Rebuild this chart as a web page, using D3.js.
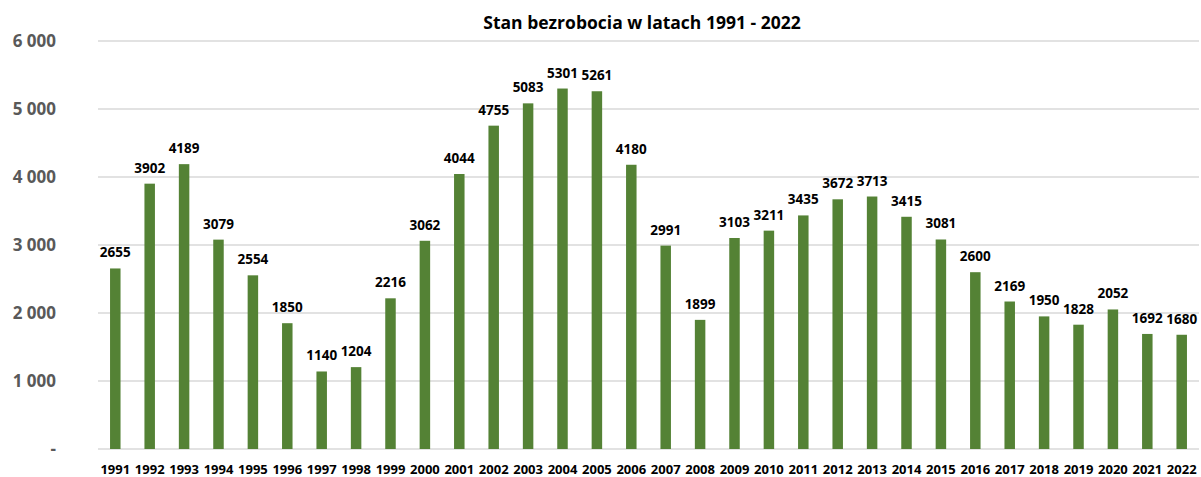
<!DOCTYPE html>
<html>
<head>
<meta charset="utf-8">
<script src="https://cdn.jsdelivr.net/npm/d3@7"></script>
<style>
  body { margin: 0; background: #fff; }
  text { font-family: "Open Sans", "Noto Sans", sans-serif; font-weight: bold; }
</style>
</head>
<body>
<svg id="chart" width="1201" height="477"></svg>
<script>
// Data
var years = ["1991","1992","1993","1994","1995","1996","1997","1998","1999","2000",
  "2001","2002","2003","2004","2005","2006","2007","2008","2009","2010",
  "2011","2012","2013","2014","2015","2016","2017","2018","2019","2020","2021","2022"];
var unemployed = [2655,3902,4189,3079,2554,1850,1140,1204,2216,3062,
  4044,4755,5083,5301,5261,4180,2991,1899,3103,3211,
  3435,3672,3713,3415,3081,2600,2169,1950,1828,2052,1692,1680];
var yTicks = [0, 1000, 2000, 3000, 4000, 5000, 6000];

var margin = {top: 41, right: 2, bottom: 28, left: 98};

var svg = d3.select("#chart"),
  width = +svg.attr("width") - margin.left - margin.right,
  height = +svg.attr("height") - margin.top - margin.bottom;

var g = svg.append("g")
  .attr("transform", "translate(" + margin.left + "," + margin.top + ")");

// Scales
var x = d3.scaleBand()
  .domain(years)
  .range([0, width])
  .paddingInner(0.695)
  .paddingOuter(0.35);

var y = d3.scaleLinear()
  .domain([0, 6000])
  .range([height, 0]);

// Gridlines
g.append("g")
  .selectAll("line")
  .data(yTicks)
  .enter()
  .append("line")
    .attr("x1", 0)
    .attr("x2", width)
    .attr("y1", function(d) { return y(d); })
    .attr("y2", function(d) { return y(d); })
    .attr("stroke", "#d9d9d9")
    .attr("stroke-width", 1.5);

// Y axis labels
var fmt = function(d) {
  return d === 0 ? "-" : d3.format(",")(d).replace(",", " ");
};
var yAxis = g.append("g")
  .attr("transform", "translate(-39,0)")
  .call(d3.axisLeft(y).tickValues(yTicks).tickFormat(fmt).tickSize(0));
yAxis.select(".domain").remove();
yAxis.selectAll("text")
  .attr("fill", "#595959")
  .style("font-size", "17px")
  .attr("dy", "0.35em");

// X axis labels
var xAxis = g.append("g")
  .attr("transform", "translate(0," + height + ")")
  .call(d3.axisBottom(x).tickSize(0));
xAxis.select(".domain").remove();
xAxis.selectAll("text")
  .attr("fill", "#000")
  .style("font-size", "13px")
  .attr("y", 25)
  .attr("dy", 0);

// Bars
g.append("g")
  .selectAll("rect")
  .data(unemployed)
  .enter()
  .append("rect")
    .attr("x", function(d, i) { return x(years[i]); })
    .attr("y", function(d) { return y(d); })
    .attr("width", x.bandwidth())
    .attr("height", function(d) { return height - y(d); })
    .attr("fill", "#548235");

// Value labels
g.append("g")
  .selectAll("text")
  .data(unemployed)
  .enter()
  .append("text")
    .attr("x", function(d, i) { return x(years[i]) + x.bandwidth() / 2; })
    .attr("y", function(d) { return y(d) - 11; })
    .attr("text-anchor", "middle")
    .attr("fill", "#000")
    .style("font-size", "13.5px")
    .text(function(d) { return d; });

// Title
svg.append("text")
  .attr("x", 642)
  .attr("y", 29)
  .attr("text-anchor", "middle")
  .attr("fill", "#000")
  .style("font-size", "17.5px")
  .text("Stan bezrobocia w latach 1991 - 2022");
</script>
</body>
</html>
